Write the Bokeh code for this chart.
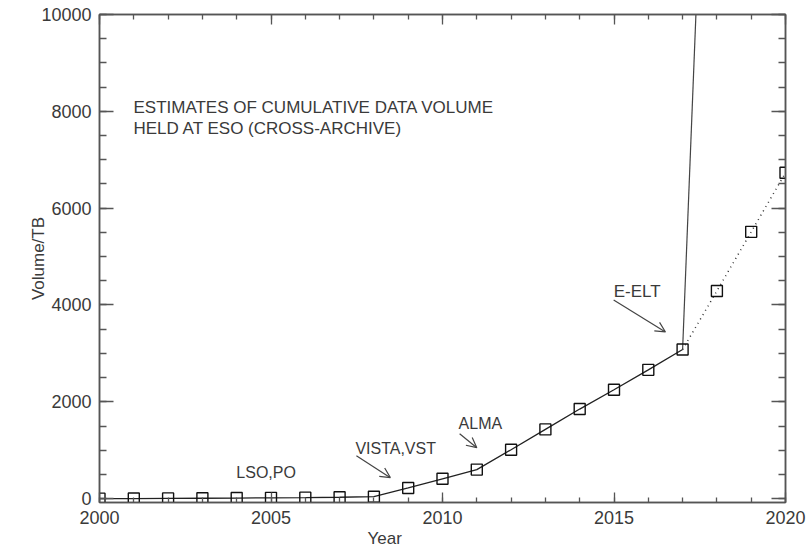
from bokeh.plotting import figure
from bokeh.models import (Range1d, FixedTicker, LinearAxis, Label, Arrow,
                          OpenHead, Title)
from bokeh.embed import file_html
from bokeh.resources import INLINE

# ---- data -------------------------------------------------------------
years_hist = [2000, 2001, 2002, 2003, 2004, 2005, 2006, 2007, 2008,
              2009, 2010, 2011, 2012, 2013, 2014, 2015, 2016, 2017]
volume_hist = [0, 2, 5, 8, 12, 16, 20, 28, 40,
               220, 410, 600, 1010, 1430, 1850, 2250, 2660, 3080]
years_proj = [2017, 2018, 2019, 2020]
volume_proj = [3080, 4290, 5510, 6730]
years_elt = [2017, 2018]
volume_elt = [3080, 20900]

x_major = [2000, 2005, 2010, 2015, 2020]
x_minor = list(range(2000, 2021))
y_major = [0, 2000, 4000, 6000, 8000, 10000]
y_minor = list(range(0, 10001, 500))

FONT = "Liberation Sans"
TXT = "#3a3a3a"
AX = "#555555"

p = figure(width=806, height=550, output_backend="svg", toolbar_location=None,
           x_range=Range1d(2000, 2020), y_range=Range1d(-80, 10000),
           x_axis_location=None, y_axis_location=None)
p.min_border_left = 99
p.min_border_right = 21
p.min_border_top = 14
p.min_border_bottom = 48
p.outline_line_color = AX
p.outline_line_width = 1.5
p.xgrid.visible = False
p.ygrid.visible = False
p.background_fill_color = "white"
p.border_fill_color = "white"

xt = FixedTicker(ticks=x_major, minor_ticks=x_minor)
yt = FixedTicker(ticks=y_major, minor_ticks=y_minor)


def style(ax, tin, min_in, labels):
    ax.axis_line_color = AX
    ax.axis_line_width = 1.5
    ax.major_tick_in = tin
    ax.major_tick_out = 0
    ax.minor_tick_in = min_in
    ax.minor_tick_out = 0
    ax.major_tick_line_color = AX
    ax.minor_tick_line_color = AX
    ax.major_tick_line_width = 1.3
    ax.minor_tick_line_width = 1.3
    if labels:
        ax.major_label_text_font = FONT
        ax.major_label_text_font_size = "18px"
        ax.major_label_text_color = TXT
        ax.major_label_standoff = 8
    else:
        ax.major_label_text_font_size = "1px"
        ax.major_label_text_color = None
        ax.major_label_standoff = 0


bottom = LinearAxis(ticker=xt)
style(bottom, 10, 5, True)
top = LinearAxis(ticker=xt)
style(top, 10, 5, False)
left = LinearAxis(ticker=yt, axis_label="Volume/TB")
style(left, 14, 7, True)
left.axis_label_text_font = FONT
left.axis_label_text_font_size = "17px"
left.axis_label_text_font_style = "normal"
left.axis_label_text_color = TXT
left.axis_label_standoff = -10
right = LinearAxis(ticker=yt)
style(right, 14, 7, False)

p.add_layout(bottom, "below")
p.add_layout(top, "above")
p.add_layout(left, "left")
p.add_layout(right, "right")

p.add_layout(Title(text="Year", align="left", offset=268, standoff=0,
                   text_font=FONT, text_font_size="17px",
                   text_font_style="normal", text_color=TXT), "below")

# ---- series -----------------------------------------------------------
p.line(years_elt, volume_elt, line_color="#444444", line_width=1.2)
p.line(years_hist, volume_hist, line_color="#222222", line_width=1.3)
p.line(years_proj, volume_proj, line_color="#333333", line_width=1.5,
       line_dash="1 4")
p.scatter(years_hist + years_proj[1:], volume_hist + volume_proj[1:],
          marker="square", size=11, fill_color=None, line_color="#111111",
          line_width=1.4)

# ---- annotations ------------------------------------------------------
def lab(x, y, t, size):
    p.add_layout(Label(x=x, y=y, text=t, text_font=FONT, text_font_size=size,
                       text_color=TXT, text_align="left",
                       text_baseline="middle"))


lab(2000.99, 8082, "ESTIMATES OF CUMULATIVE DATA VOLUME", "17px")
lab(2000.99, 7649, "HELD AT ESO (CROSS-ARCHIVE)", "17px")
lab(2003.99, 546, "LSO,PO", "16px")
lab(2007.46, 1041, "VISTA,VST", "16px")
lab(2010.47, 1557, "ALMA", "16px")
lab(2014.99, 4278, "E-ELT", "17px")


def arrow(x0, y0, x1, y1):
    p.add_layout(Arrow(end=OpenHead(size=10, line_color="#444444", line_width=1.2),
                       x_start=x0, y_start=y0, x_end=x1, y_end=y1,
                       line_color="#444444", line_width=1.2))


arrow(2007.49, 887, 2008.48, 433)
arrow(2010.50, 1340, 2011.0, 1052)
arrow(2014.99, 4103, 2016.50, 3443)

open("out.html", "w").write(file_html(p, INLINE))
